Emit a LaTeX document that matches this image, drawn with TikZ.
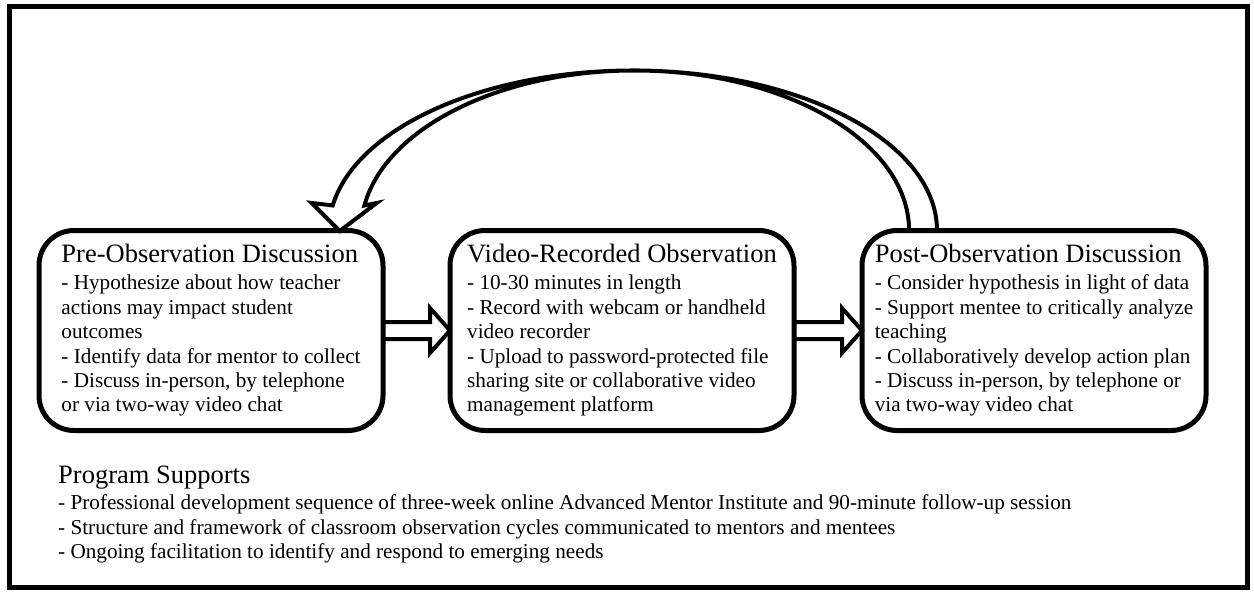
\documentclass[tikz,border=0pt]{standalone}
\usepackage{fontspec}
\setmainfont{Liberation Serif}
\usetikzlibrary{positioning}
\newcommand\cycletitle{\fontsize{26.5pt}{30pt}\selectfont}
\newcommand\cyclebody{\fontsize{21.2pt}{24.4pt}\selectfont}
\begin{document}
\begin{tikzpicture}[x=1pt,y=-1pt,
	stagebox/.style={draw,line width=5pt,rounded corners=35pt,fill=white,minimum width=344pt,minimum height=200pt,align=left,outer sep=0pt,font=\cyclebody},
	flow/.style={draw,line width=4pt,line join=miter}]
	\useasboundingbox (0,0) rectangle (1254,594);
	\draw [line width=5pt] (9.5,6.5) rectangle (1247.5,587.5);
	\node [stagebox] (pre) at (211,330.5) {{\cycletitle Pre-Observation Discussion}\\[2.6pt]
		- Hypothesize about how teacher\\
		actions may impact student\\
		outcomes\\
		- Identify data for mentor to collect\\
		- Discuss in-person, by telephone\\
		or via two-way video chat};
	\node [stagebox,right=67pt of pre] (video) {{\cycletitle Video-Recorded Observation}\\[2.6pt]
		- 10-30 minutes in length\\
		- Record with webcam or handheld\\
		video recorder\\
		- Upload to password-protected file\\
		sharing site or collaborative video\\
		management platform};
	\node [stagebox,right=68pt of video] (post) {{\cycletitle Post-Observation Discussion}\\[2.6pt]
		- Consider hypothesis in light of data\\
		- Support mentee to critically analyze\\
		teaching\\
		- Collaboratively develop action plan\\
		- Discuss in-person, by telephone or\\
		via two-way video chat};
	\foreach \from/\to in {pre/video,video/post}
		\draw [flow] ([yshift=8.5pt]\from.east) -- ([xshift=-20pt,yshift=8.5pt]\to.west)
			-- ([xshift=-20pt,yshift=22.5pt]\to.west) -- (\to.west)
			-- ([xshift=-20pt,yshift=-22.5pt]\to.west) -- ([xshift=-20pt,yshift=-8.5pt]\to.west)
			-- ([yshift=-8.5pt]\from.east);
	\draw [flow] ([xshift=-97pt]post.north) arc [start angle=0,end angle=171,x radius=304pt,y radius=160pt]
		-- ++(-21pt,2.5pt) -- ++(28pt,-28pt) -- ++(37pt,28pt) -- ++(-12.3pt,-2.5pt)
		arc [start angle=171,end angle=0,x radius=274pt,y radius=160pt];
	\node [anchor=north west,align=left,inner sep=0pt,font=\cyclebody] (supports) at (58,466) {{\cycletitle Program Supports}\\[1.6pt]
		- Professional development sequence of three-week online Advanced Mentor Institute and 90-minute follow-up session\\
		- Structure and framework of classroom observation cycles communicated to mentors and mentees\\
		- Ongoing facilitation to identify and respond to emerging needs};
\end{tikzpicture}
\end{document}
